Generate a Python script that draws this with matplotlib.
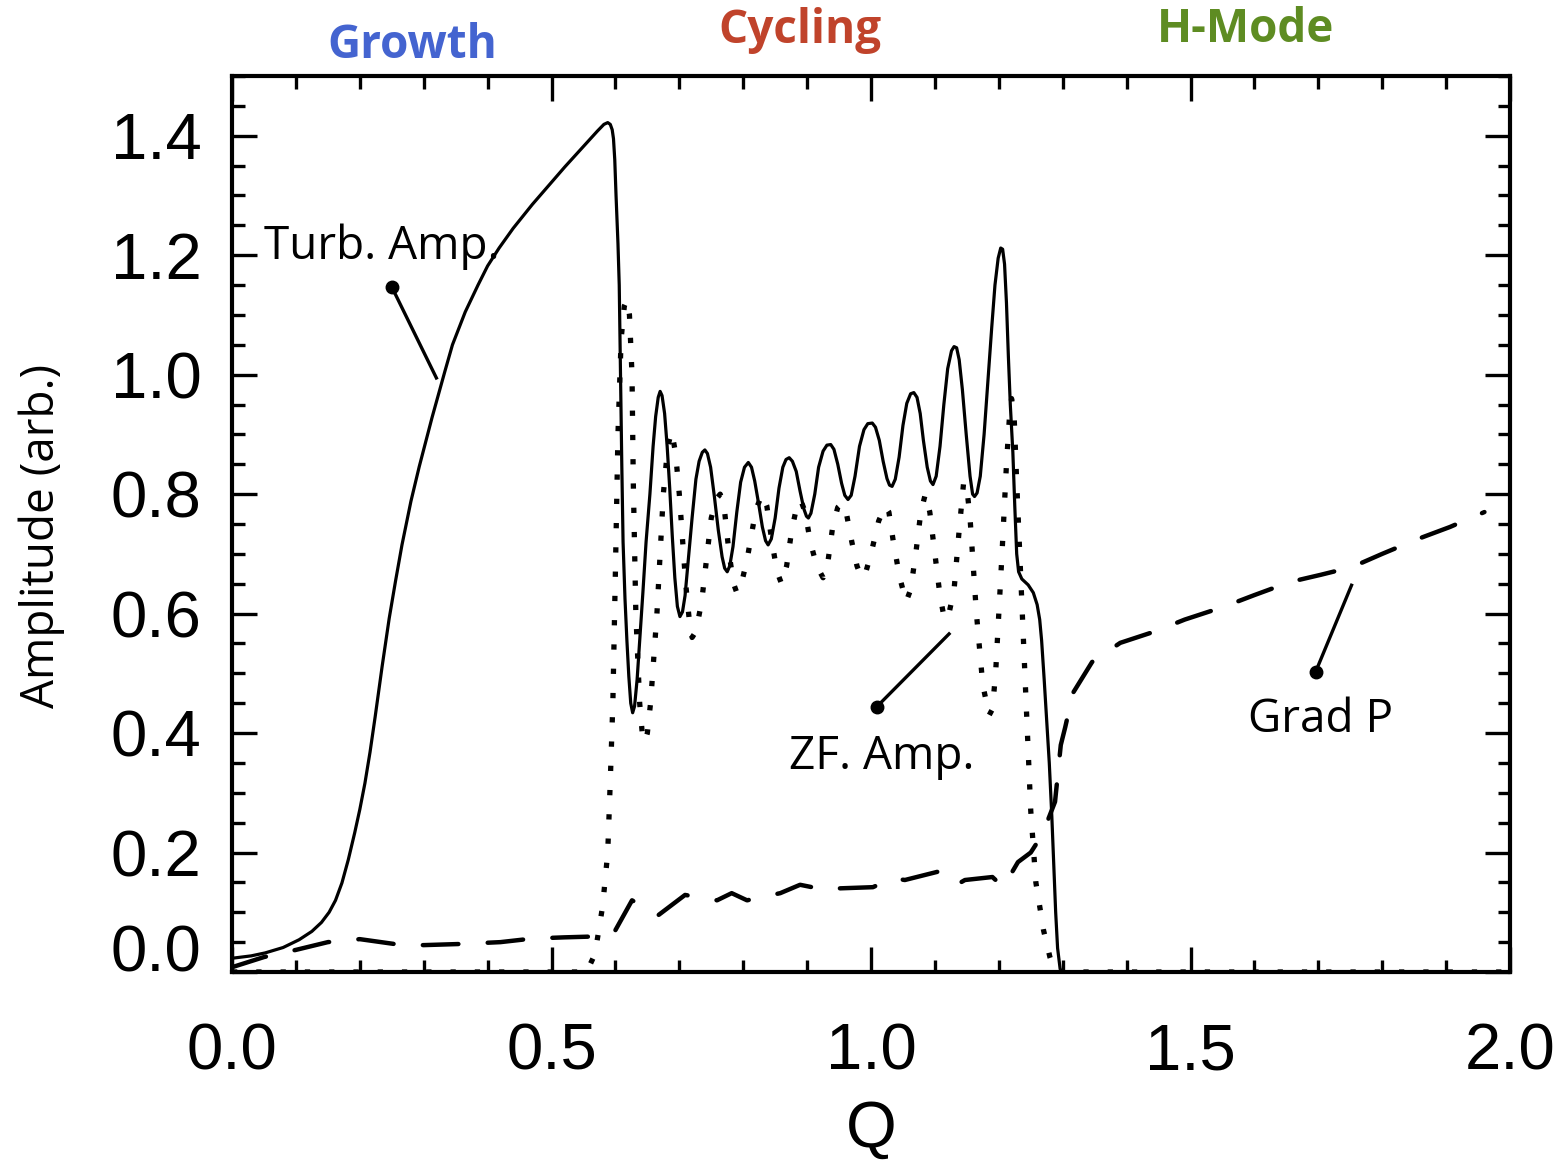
import matplotlib
matplotlib.use("Agg")
import matplotlib.pyplot as plt
from matplotlib.ticker import MultipleLocator, FixedLocator

# ---------------- data ----------------
turb_q = [0.000, 0.030, 0.052, 0.080, 0.105, 0.125, 0.140, 0.152, 0.162, 0.172,
          0.182, 0.192, 0.200, 0.208, 0.216, 0.224, 0.235, 0.246, 0.256, 0.266,
          0.280, 0.293, 0.313, 0.333, 0.345, 0.365, 0.385, 0.400, 0.418, 0.440,
          0.470, 0.500, 0.521, 0.550, 0.572, 0.582, 0.588, 0.592, 0.595, 0.597,
          0.599, 0.601, 0.604, 0.606, 0.608, 0.610, 0.612, 0.615, 0.618, 0.621,
          0.624, 0.627, 0.630, 0.634, 0.639, 0.643, 0.648, 0.654, 0.659, 0.663,
          0.667, 0.670, 0.673, 0.677, 0.681, 0.685, 0.689, 0.693, 0.697, 0.701,
          0.705, 0.709, 0.714, 0.720, 0.726, 0.731, 0.736, 0.740, 0.744, 0.749,
          0.755, 0.761, 0.767, 0.771, 0.775, 0.779, 0.784, 0.790, 0.796, 0.802,
          0.808, 0.813, 0.818, 0.824, 0.830, 0.835, 0.839, 0.844, 0.850, 0.856,
          0.862, 0.867, 0.872, 0.877, 0.883, 0.889, 0.895, 0.899, 0.902, 0.906,
          0.912, 0.918, 0.925, 0.931, 0.937, 0.942, 0.948, 0.954, 0.959, 0.964,
          0.969, 0.975, 0.982, 0.989, 0.995, 1.002, 1.007, 1.013, 1.019, 1.025,
          1.029, 1.033, 1.038, 1.044, 1.050, 1.056, 1.062, 1.067, 1.072, 1.077,
          1.082, 1.088, 1.093, 1.097, 1.102, 1.108, 1.114, 1.120, 1.126, 1.130,
          1.134, 1.138, 1.143, 1.149, 1.155, 1.159, 1.162, 1.166, 1.171, 1.177,
          1.183, 1.189, 1.194, 1.199, 1.203, 1.206, 1.209, 1.212, 1.215, 1.218,
          1.222, 1.225, 1.228, 1.231, 1.236, 1.246, 1.254, 1.260, 1.264, 1.267,
          1.271, 1.275, 1.279, 1.283, 1.286, 1.289, 1.292, 1.296, 1.300, 2.000]
turb_amp = [0.023, 0.027, 0.032, 0.041, 0.054, 0.068, 0.083, 0.100, 0.120, 0.149,
            0.188, 0.233, 0.272, 0.316, 0.368, 0.427, 0.512, 0.592, 0.655, 0.715,
            0.788, 0.846, 0.928, 1.005, 1.050, 1.105, 1.150, 1.182, 1.212, 1.245,
            1.285, 1.322, 1.348, 1.382, 1.408, 1.419, 1.422, 1.419, 1.410, 1.395,
            1.360, 1.300, 1.220, 1.150, 1.000, 0.850, 0.720, 0.625, 0.555, 0.495,
            0.450, 0.434, 0.445, 0.490, 0.570, 0.635, 0.720, 0.800, 0.880, 0.930,
            0.962, 0.972, 0.965, 0.935, 0.880, 0.810, 0.730, 0.660, 0.612, 0.595,
            0.603, 0.630, 0.690, 0.760, 0.825, 0.855, 0.870, 0.874, 0.868, 0.845,
            0.795, 0.740, 0.695, 0.676, 0.670, 0.680, 0.712, 0.770, 0.820, 0.845,
            0.853, 0.845, 0.822, 0.785, 0.745, 0.722, 0.715, 0.725, 0.760, 0.810,
            0.845, 0.858, 0.861, 0.855, 0.838, 0.805, 0.775, 0.763, 0.760, 0.768,
            0.800, 0.845, 0.872, 0.882, 0.883, 0.875, 0.850, 0.818, 0.798, 0.791,
            0.798, 0.830, 0.880, 0.908, 0.918, 0.919, 0.912, 0.890, 0.855, 0.826,
            0.815, 0.813, 0.825, 0.862, 0.915, 0.952, 0.968, 0.970, 0.962, 0.935,
            0.890, 0.845, 0.822, 0.816, 0.830, 0.880, 0.950, 1.010, 1.040, 1.047,
            1.045, 1.025, 0.975, 0.900, 0.830, 0.800, 0.796, 0.802, 0.830, 0.900,
            0.990, 1.080, 1.150, 1.195, 1.212, 1.210, 1.185, 1.120, 1.030, 0.950,
            0.870, 0.780, 0.700, 0.670, 0.658, 0.648, 0.635, 0.615, 0.590, 0.555,
            0.490, 0.420, 0.350, 0.260, 0.180, 0.100, 0.040, 0.005, 0.000, 0.000]

zf_q = [0.000, 0.555, 0.568, 0.580, 0.588, 0.592, 0.596, 0.600, 0.604, 0.609,
        0.614, 0.618, 0.622, 0.626, 0.628, 0.632, 0.638, 0.642, 0.646, 0.650,
        0.655, 0.665, 0.675, 0.682, 0.688, 0.694, 0.700, 0.710, 0.716, 0.720,
        0.726, 0.735, 0.750, 0.758, 0.764, 0.770, 0.778, 0.785, 0.790, 0.796,
        0.806, 0.820, 0.830, 0.837, 0.845, 0.853, 0.860, 0.868, 0.876, 0.884,
        0.890, 0.897, 0.905, 0.915, 0.925, 0.933, 0.940, 0.948, 0.955, 0.962,
        0.970, 0.978, 0.985, 0.992, 1.000, 1.012, 1.022, 1.028, 1.035, 1.045,
        1.055, 1.062, 1.070, 1.078, 1.085, 1.092, 1.100, 1.108, 1.115, 1.122,
        1.130, 1.138, 1.145, 1.150, 1.155, 1.160, 1.165, 1.175, 1.185, 1.190,
        1.195, 1.200, 1.205, 1.212, 1.217, 1.220, 1.224, 1.228, 1.236, 1.244,
        1.250, 1.258, 1.270, 1.280, 1.288, 2.000]
zf_amp = [0.000, 0.000, 0.030, 0.110, 0.200, 0.320, 0.450, 0.670, 0.900, 1.060,
          1.115, 1.125, 1.100, 1.000, 0.820, 0.600, 0.450, 0.400, 0.385, 0.400,
          0.450, 0.600, 0.800, 0.880, 0.905, 0.870, 0.800, 0.650, 0.585, 0.560,
          0.570, 0.620, 0.760, 0.792, 0.800, 0.780, 0.700, 0.650, 0.635, 0.645,
          0.690, 0.775, 0.800, 0.780, 0.720, 0.670, 0.650, 0.680, 0.740, 0.780,
          0.790, 0.770, 0.720, 0.680, 0.660, 0.690, 0.745, 0.778, 0.785, 0.765,
          0.720, 0.680, 0.660, 0.670, 0.700, 0.755, 0.780, 0.770, 0.720, 0.660,
          0.620, 0.640, 0.700, 0.770, 0.800, 0.770, 0.700, 0.630, 0.590, 0.600,
          0.640, 0.740, 0.820, 0.810, 0.760, 0.680, 0.600, 0.480, 0.430, 0.440,
          0.500, 0.600, 0.700, 0.850, 0.935, 0.960, 0.930, 0.820, 0.620, 0.420,
          0.270, 0.150, 0.070, 0.025, 0.000, 0.000]

gradp_q = [0.000, 0.050, 0.100, 0.150, 0.200, 0.260, 0.300, 0.360, 0.420, 0.470,
           0.520, 0.585, 0.600, 0.626, 0.667, 0.709, 0.759, 0.782, 0.806, 0.858,
           0.889, 0.931, 0.950, 1.003, 1.034, 1.053, 1.105, 1.134, 1.147, 1.190,
           1.207, 1.230, 1.250, 1.268, 1.288, 1.297, 1.304, 1.316, 1.346, 1.390,
           1.444, 1.491, 1.551, 1.600, 1.656, 1.704, 1.753, 1.800, 1.856, 1.906,
           1.960]
gradp_amp = [0.008, 0.025, 0.037, 0.050, 0.055, 0.046, 0.045, 0.047, 0.050, 0.056,
             0.058, 0.060, 0.070, 0.120, 0.095, 0.129, 0.120, 0.132, 0.120, 0.132,
             0.146, 0.137, 0.140, 0.142, 0.157, 0.154, 0.168, 0.146, 0.154, 0.159,
             0.142, 0.184, 0.200, 0.230, 0.285, 0.380, 0.410, 0.467, 0.519, 0.551,
             0.570, 0.590, 0.611, 0.631, 0.653, 0.665, 0.678, 0.700, 0.725, 0.745,
             0.770]

x_ticks = [0.0, 0.5, 1.0, 1.5, 2.0]
x_ticklabels = ["0.0", "0.5", "1.0", "1.5", "2.0"]
y_ticks = [0.0, 0.2, 0.4, 0.6, 0.8, 1.0, 1.2, 1.4]
y_ticklabels = ["0.0", "0.2", "0.4", "0.6", "0.8", "1.0", "1.2", "1.4"]

phase_labels = ["Growth", "Cycling", "H-Mode"]
phase_colors = ["#4464D0", "#C0432B", "#5E8C22"]

curve_labels = ["Turb. Amp.", "ZF. Amp.", "Grad P"]

# ---------------- figure ----------------
fig = plt.figure(figsize=(15.64, 11.61), dpi=100)
ax = fig.add_axes([232 / 1564, 1 - 972 / 1161, (1510 - 232) / 1564, (972 - 76) / 1161])

ax.plot(turb_q, turb_amp, color="black", lw=2.3, solid_joinstyle="round", zorder=3)
ax.plot(zf_q, zf_amp, color="black", lw=3.8, linestyle=(0, (1.0, 3.6)),
        dash_capstyle="butt", zorder=3)
ax.plot(gradp_q, gradp_amp, color="black", lw=3.2, linestyle=(0, (8.0, 6.6)),
        dash_capstyle="round", zorder=3)

ax.set_xlim(0, 2.0)
ax.set_ylim(0, 1.5)

tick_font = dict(family=["Liberation Sans", "DejaVu Sans"], size=47)
ax.xaxis.set_major_locator(FixedLocator(x_ticks))
ax.yaxis.set_major_locator(FixedLocator(y_ticks))
ax.set_xticklabels(x_ticklabels, fontdict=tick_font)
ax.set_yticklabels(y_ticklabels, fontdict=tick_font)
ax.xaxis.set_minor_locator(MultipleLocator(0.1))
ax.yaxis.set_minor_locator(MultipleLocator(0.05))
ax.tick_params(which="both", direction="in", top=True, right=True, width=2.4,
               color="black")
ax.tick_params(which="major", length=18)
ax.tick_params(which="minor", length=9)
ax.tick_params(axis="y", which="major", pad=22)
ax.tick_params(axis="x", which="major", pad=36)
ax.get_yticklabels()[0].set_va("baseline")
for s in ax.spines.values():
    s.set_linewidth(3.0)

ax.set_xlabel("Q", fontdict=dict(family=["Liberation Sans", "DejaVu Sans"], size=47))
ax.xaxis.set_label_coords(0.500, -0.143)
ax.set_ylabel("Amplitude (arb.)", fontdict=dict(family=["Open Sans", "DejaVu Sans"], size=33))
ax.yaxis.set_label_coords(-0.131, 0.487)

# phase titles
for lab, col, (fx, fy) in zip(phase_labels, phase_colors,
                              [(412, 46), (800, 30), (1246, 30)]):
    fig.text(fx / 1564, 1 - fy / 1161, lab, color=col, ha="center", va="center",
             family=["Open Sans", "DejaVu Sans"], weight="bold", size=33)

# curve annotations: text, pointer (dot end -> curve end)
ann_font = dict(family=["Open Sans", "DejaVu Sans"], size=33, color="black")
ann_specs = [
    (curve_labels[0], (0.050, 1.214), "left", (0.250, 1.147), (0.321, 0.992)),
    (curve_labels[1], (1.017, 0.360), "center", (1.009, 0.444), (1.124, 0.568)),
    (curve_labels[2], (1.704, 0.422), "center", (1.696, 0.503), (1.753, 0.650)),
]
for txt, tpos, ha, dot, end in ann_specs:
    ax.text(tpos[0], tpos[1], txt, ha=ha, va="center", **ann_font)
    ax.plot([dot[0], end[0]], [dot[1], end[1]], color="black", lw=2.4,
            solid_capstyle="butt", zorder=4)
    ax.plot([dot[0]], [dot[1]], marker="o", ms=9, color="black", zorder=5)

fig.savefig("out.png", dpi=100)
